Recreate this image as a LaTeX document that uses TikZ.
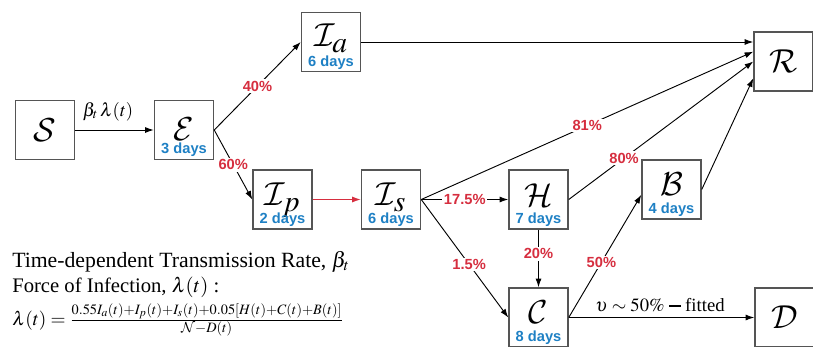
\documentclass[tikz,border=0pt]{standalone}
\usepackage{mathptmx}
\usepackage[no-math]{fontspec}
\setmainfont{Liberation Serif}
\newfontfamily\lsans{Liberation Sans}
\DeclareMathAlphabet{\mathcal}{OMS}{lmsy}{m}{n}
\usetikzlibrary{arrows.meta,calc}
\definecolor{pred}{HTML}{D62E3F}
\definecolor{dblue}{HTML}{1E80C4}
\definecolor{boxgray}{HTML}{555555}
\begin{document}
\begin{tikzpicture}[x=0.75pt,y=-0.75pt,
  box/.style={draw=boxgray,line width=1.1pt,minimum width=44.25pt,minimum height=44.25pt,inner sep=0pt},
  letter/.style={font=\fontsize{30}{32}\selectfont,inner sep=0pt},
  days/.style={font=\lsans\bfseries\fontsize{11}{12}\selectfont,text=dblue,inner sep=0pt,anchor=base},
  pct/.style={font=\lsans\bfseries\fontsize{11}{12}\selectfont,text=pred,fill=white,inner sep=1.2pt},
  txt/.style={font=\fontsize{15}{17}\selectfont,inner sep=0pt},
  arr/.style={-{Latex[length=6.5pt,width=4.5pt]},line width=0.7pt},
]
\useasboundingbox (0,0) rectangle (813,346);
% boxes
\node[box] (S) at (45,130) {};
\node[box] (E) at (184,130) {};
\node[box] (Ia) at (331,42) {};
\node[box] (Ip) at (282.5,199.5) {};
\node[box] (Is) at (391,199.5) {};
\node[box] (H) at (538.5,199.5) {};
\node[box] (B) at (671.5,189.5) {};
\node[box] (C) at (538.5,317.5) {};
\node[box] (R) at (783.5,61.5) {};
\node[box] (D) at (784.5,317.5) {};
% letters
\node[letter] (Sl) at (S.center) {$\mathcal{S}$};
\node[letter] (Rl) at (R.center) {$\mathcal{R}$};
\node[letter] (Dl) at (D.center) {$\mathcal{D}$};
\node[letter,anchor=base] (El) at ($(E.center)+(0,10)$) {$\mathcal{E}$};
\node[letter,anchor=base] (Ial) at ($(Ia.center)+(0,5)$) {$\mathcal{I}_a$};
\node[letter,anchor=base] (Ipl) at ($(Ip.center)+(0,6)$) {$\mathcal{I}_p$};
\node[letter,anchor=base] (Isl) at ($(Is.center)+(0,6)$) {$\mathcal{I}_s$};
\node[letter,anchor=base] (Hl) at ($(H.center)+(0,6.5)$) {$\mathcal{H}$};
\node[letter,anchor=base] (Bl) at ($(B.center)+(0,5.5)$) {$\mathcal{B}$};
\node[letter,anchor=base] (Cl) at ($(C.center)+(0,5.5)$) {$\mathcal{C}$};
% days
\node[days] (Ed) at ($(E.center)+(0,23)$) {3 days};
\node[days] (Iad) at ($(Ia.center)+(0,24)$) {6 days};
\node[days] (Ipd) at ($(Ip.center)+(0,24)$) {2 days};
\node[days] (Isd) at ($(Is.center)+(0,24)$) {6 days};
\node[days] (Hd) at ($(H.center)+(0,23.5)$) {7 days};
\node[days] (Bd) at ($(B.center)+(0,23.5)$) {4 days};
\node[days] (Cd) at ($(C.center)+(0,23.5)$) {8 days};
% connectors
\draw[arr] (S.east) -- (E.west);
\node[txt,font=\fontsize{14}{16}\selectfont,anchor=base] (lab) at (108,116) {$\beta_t\,\lambda(t)$};
\draw[arr] (E.east) -- node[pct,pos=0.5] {40\%} (Ia.west);
\draw[arr] (E.east) -- node[pct,pos=0.5] {60\%} (Ip.west);
\draw[arr] (Ia.east) -- (Ia.east -| R.west);
\draw[arr,draw=pred,-{Latex[length=6.5pt,width=4.5pt,fill=pred]}] (Ip.east) -- (Is.west);
\draw[arr] (Is.east) -- node[pct,pos=0.5] {17.5\%} (H.west);
\draw[arr] (Is.east) -- node[pct,pos=0.5] {81\%} (R.162);
\draw[arr] (Is.east) -- node[pct,pos=0.55] {1.5\%} (C.west);
\draw[arr] (H.east) -- node[pct,pos=0.3] {80\%} (R.west);
\draw[arr] (H.south) -- node[pct,pos=0.42] {20\%} (C.north);
\draw[arr] (C.east) -- node[pct,pos=0.45] {50\%} (B.190);
\draw[arr] (B.east) -- (R.209);
\draw[arr] (C.east) -- (D.west);
\node[txt,font=\fontsize{14}{16}\selectfont,anchor=base] (vlab) at (660,311) {$\upsilon\sim 50\%$ \rule[0.22em]{0.6em}{0.09em} fitted};
% text block
\node[txt,font=\fontsize{16.3}{18}\selectfont,anchor=base west] (t1) at (12,267) {Time-dependent Transmission Rate, $\beta_t$};
\node[txt,font=\fontsize{15.5}{17}\selectfont,anchor=base west] (t2) at (12,292) {Force of Infection, $\lambda(t)$ :};
\node[txt,font=\fontsize{14.5}{16}\selectfont,anchor=base west] (t3) at (12,325) {$\lambda(t) = \frac{0.55I_a(t)+I_p(t)+I_s(t)+0.05[H(t)+C(t)+B(t)]}{\mathcal{N}-D(t)}$};
\end{tikzpicture}
\end{document}
